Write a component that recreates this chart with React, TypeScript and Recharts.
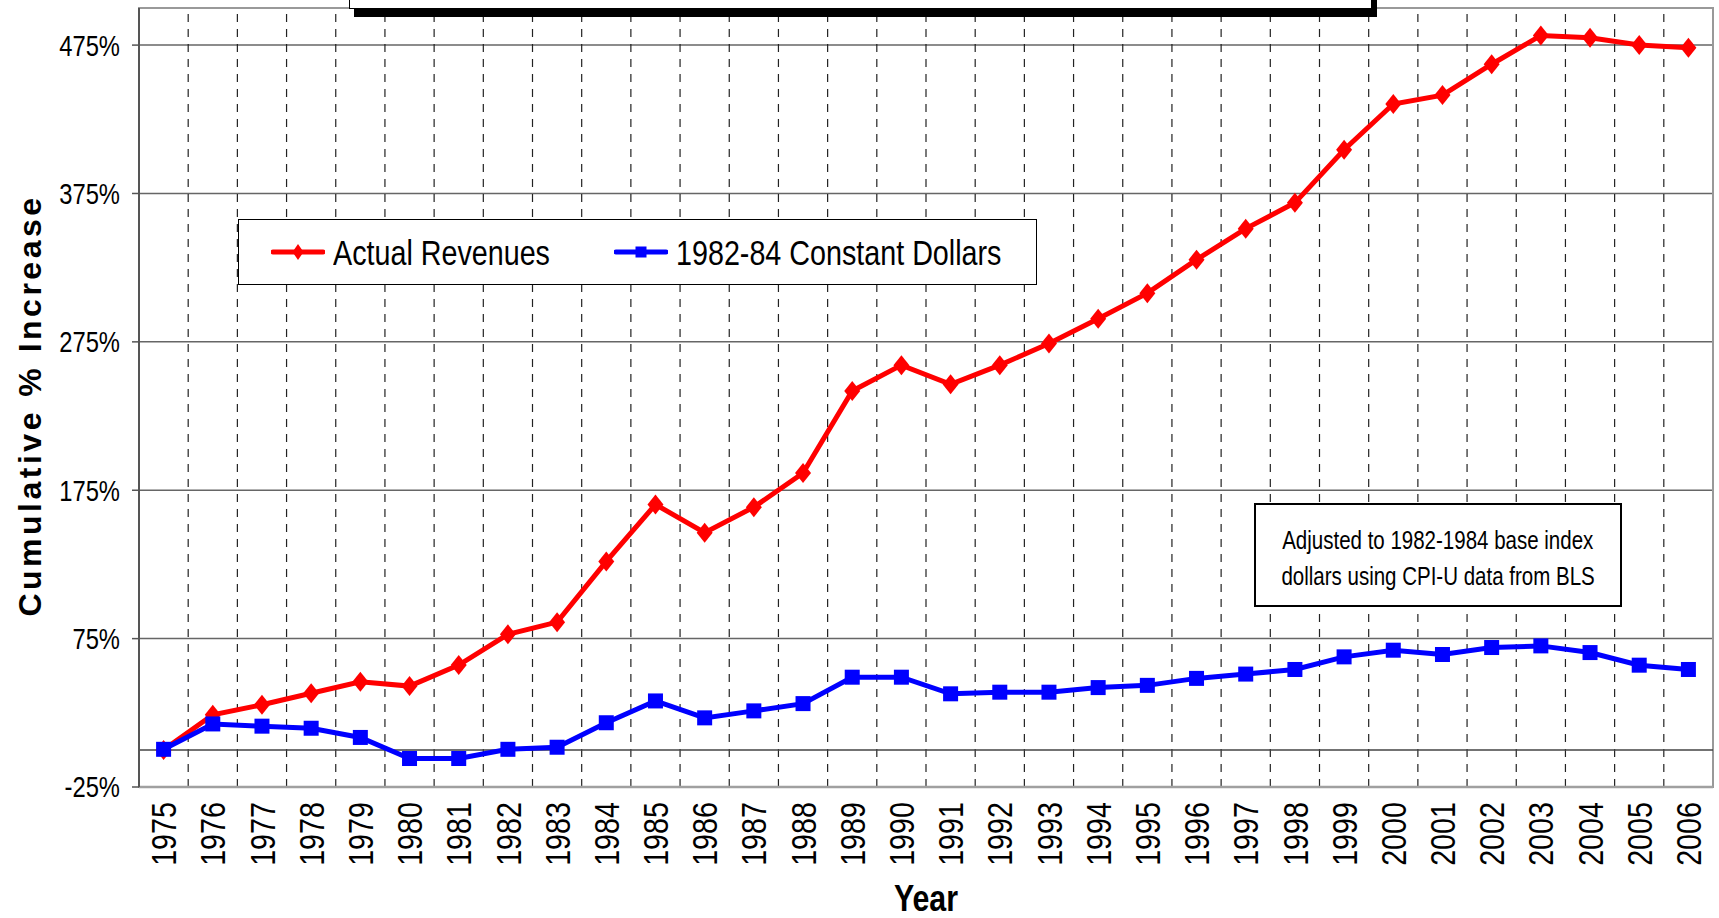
import React from 'react';
import {
  LineChart,
  Line,
  XAxis,
  YAxis,
  CartesianGrid,
  ReferenceLine,
  ReferenceArea,
  Legend,
  Label,
} from 'recharts';

// cumulative % increase since 1975
const years = [
  1975, 1976, 1977, 1978, 1979, 1980, 1981, 1982, 1983, 1984, 1985, 1986, 1987, 1988, 1989, 1990,
  1991, 1992, 1993, 1994, 1995, 1996, 1997, 1998, 1999, 2000, 2001, 2002, 2003, 2004, 2005, 2006,
];
const actualRevenues = [
  0, 23.7, 30.4, 38.2, 45.9, 43, 57.2, 77.9, 86.1, 127, 165.4, 146.4, 163.6, 186.6, 241.9, 259.3,
  246.4, 259.3, 273.9, 290.6, 307.8, 330.4, 351.3, 368.7, 404.5, 435.3, 441.3, 462.1, 481.5, 479.9,
  475, 473.2,
];
const constantDollars = [
  0.4, 17.5, 16, 14.6, 8.4, -5.8, -5.8, 0.4, 1.8, 18.3, 33, 21.6, 26.3, 31.2, 49, 49, 37.8, 38.9,
  38.9, 42, 43.5, 48.2, 51.1, 54.2, 62.7, 67.2, 64.3, 69, 70.1, 65.6, 57.1, 54.2,
];
const yTicks = [-25, 75, 175, 275, 375, 475];
const noteLines = ['Adjusted to 1982-1984 base index', 'dollars using CPI-U data from BLS'];

const chartData = years.map((year, i) => ({
  year,
  actual: actualRevenues[i],
  constant: constantDollars[i],
}));
// dashed lines sit between the years, not on them
const yearBoundaries = years.slice(0, -1).map((y) => y + 0.5);

// no Arial Narrow here, so squeeze Liberation Sans (Arial metrics) sideways
const SANS = "'Liberation Sans', Arial, sans-serif";
const SQUEEZE = 0.82;
const RED = '#ff0000';
const BLUE = '#0000ff';

const DiamondDot = (props: any) => {
  const { cx, cy, index } = props;
  if (cx == null || cy == null) return <g key={index} />;
  return (
    <path
      key={index}
      d={`M${cx},${cy - 10} L${cx + 8},${cy} L${cx},${cy + 10} L${cx - 8},${cy} Z`}
      fill={RED}
    />
  );
};

const SquareDot = (props: any) => {
  const { cx, cy, index } = props;
  if (cx == null || cy == null) return <g key={index} />;
  return <rect key={index} x={cx - 7.5} y={cy - 7.5} width={15} height={15} fill={BLUE} />;
};

const YearTick = ({ x, y, payload }: any) => {
  const ty = y + 15;
  return (
    <text
      x={0}
      y={0}
      dy="0.36em"
      transform={`translate(${x}, ${ty}) rotate(-90) scale(${SQUEEZE}, 1)`}
      textAnchor="end"
      fontFamily={SANS}
      fontSize={35}
      fill="#000"
    >
      {payload.value}
    </text>
  );
};

const PercentTick = ({ x, y, payload }: any) => (
  <text
    x={0}
    y={0}
    dy="0.36em"
    transform={`translate(${x}, ${y}) scale(${SQUEEZE}, 1)`}
    textAnchor="end"
    fontFamily={SANS}
    fontSize={29}
    fill="#000"
  >
    {`${payload.value}%`}
  </text>
);

const squeezed = (size: number, extra: React.CSSProperties = {}): React.CSSProperties => ({
  display: 'inline-block',
  whiteSpace: 'nowrap',
  fontFamily: SANS,
  fontSize: size,
  transform: `scaleX(${SQUEEZE})`,
  transformOrigin: 'left center',
  ...extra,
});

const legendLeft: Record<string, number> = { actual: 32, constant: 375 };

const LegendBox = (props: any) => {
  const items = props.payload ?? [];
  return (
    <div
      style={{
        position: 'relative',
        boxSizing: 'border-box',
        width: 799,
        height: 66,
        border: '1px solid #000',
        background: '#fff',
      }}
    >
      {items.map((item: any) => {
        const isRed = item.dataKey === 'actual';
        const c = isRed ? RED : BLUE;
        return (
          <div
            key={item.value}
            style={{
              position: 'absolute',
              left: legendLeft[item.dataKey] ?? 0,
              top: 0,
              height: 64,
              display: 'flex',
              alignItems: 'center',
            }}
          >
            <svg width={54} height={20} style={{ marginRight: 8 }}>
              <line x1={2} y1={10} x2={52} y2={10} stroke={c} strokeWidth={5} strokeLinecap="round" />
              {isRed ? (
                <path d="M27,2 L32.5,10 L27,18 L21.5,10 Z" fill={c} />
              ) : (
                <rect x={21.5} y={4.5} width={11} height={11} fill={c} />
              )}
            </svg>
            <span style={squeezed(35, { color: '#000', lineHeight: 1 })}>{item.value}</span>
          </div>
        );
      })}
    </div>
  );
};

export default function App() {
  return (
    <div style={{ position: 'absolute', left: 0, top: 0, width: 1719, height: 918, background: '#fff' }}>
      <LineChart
        width={1719}
        height={918}
        data={chartData}
        margin={{ top: 8, right: 6, bottom: 0, left: 0 }}
      >
        <CartesianGrid vertical={false} stroke="#666" strokeWidth={1.5} />
        <ReferenceArea
          x1={1974.5}
          x2={2006.5}
          y1={-25}
          y2={500}
          fill="none"
          stroke="#999"
          strokeWidth={2}
        />
        {yearBoundaries.map((b) => (
          <ReferenceLine key={b} x={b} stroke="#222" strokeWidth={1.2} strokeDasharray="8 7" />
        ))}
        <ReferenceLine y={0} stroke="#444" strokeWidth={1.5} />
        <XAxis
          type="number"
          dataKey="year"
          domain={[1974.5, 2006.5]}
          ticks={years}
          interval={0}
          allowDataOverflow
          height={131}
          tickLine={false}
          tickSize={0}
          tickMargin={0}
          axisLine={{ stroke: '#a0a0a0', strokeWidth: 2.5 }}
          tick={<YearTick />}
        >
          <Label
            content={(p: any) => {
              const vb = p.viewBox ?? { x: 139, y: 787, width: 1574, height: 131 };
              const lx = vb.x + vb.width / 2;
              const ly = vb.y + 124;
              return (
                <text
                  x={0}
                  y={0}
                  transform={`translate(${lx}, ${ly}) scale(${SQUEEZE}, 1)`}
                  textAnchor="middle"
                  fontFamily={SANS}
                  fontWeight="bold"
                  fontSize={37}
                  fill="#000"
                >
                  Year
                </text>
              );
            }}
          />
        </XAxis>
        <YAxis
          type="number"
          domain={[-25, 500]}
          ticks={yTicks}
          interval={0}
          allowDataOverflow
          width={139}
          tickSize={7}
          tickMargin={12}
          tickLine={{ stroke: '#555', strokeWidth: 1.5 }}
          axisLine={{ stroke: '#555', strokeWidth: 2 }}
          tick={<PercentTick />}
        >
          <Label
            content={(p: any) => {
              const vb = p.viewBox ?? { x: 0, y: 8, width: 139, height: 779 };
              const lx = vb.x + 41;
              const ly = vb.y + vb.height / 2 + 8;
              return (
                <text
                  x={lx}
                  y={ly}
                  transform={`rotate(-90, ${lx}, ${ly})`}
                  textAnchor="middle"
                  fontFamily={SANS}
                  fontWeight="bold"
                  fontSize={32}
                  letterSpacing={3.5}
                  fill="#000"
                >
                  Cumulative % Increase
                </text>
              );
            }}
          />
        </YAxis>
        <Legend
          layout="horizontal"
          verticalAlign="middle"
          align="center"
          wrapperStyle={{ left: 238, top: 219, width: 799, height: 66 }}
          content={<LegendBox />}
        />
        <Line
          type="linear"
          dataKey="actual"
          name="Actual Revenues"
          stroke={RED}
          strokeWidth={5}
          dot={<DiamondDot />}
          activeDot={false}
          isAnimationActive={false}
        />
        <Line
          type="linear"
          dataKey="constant"
          name="1982-84 Constant Dollars"
          stroke={BLUE}
          strokeWidth={5}
          dot={<SquareDot />}
          activeDot={false}
          isAnimationActive={false}
        />
      </LineChart>

      {/* title box, cut off by the top edge in the original */}
      <div
        style={{
          position: 'absolute',
          left: 349,
          top: -60,
          width: 1023,
          height: 69,
          boxSizing: 'border-box',
          border: '1px solid #000',
          background: '#fff',
          boxShadow: '5px 8px 0 #000',
        }}
      />

      <div
        style={{
          position: 'absolute',
          left: 1254,
          top: 503,
          width: 368,
          height: 104,
          boxSizing: 'border-box',
          border: '2px solid #000',
          background: '#fff',
          color: '#000',
        }}
      >
        {noteLines.map((line, i) => (
          <div
            key={line}
            style={{
              position: 'absolute',
              left: -60,
              right: -60,
              top: 20 + i * 36,
              height: 30,
              textAlign: 'center',
            }}
          >
            <span style={squeezed(25, { transformOrigin: 'center center', lineHeight: '30px' })}>{line}</span>
          </div>
        ))}
      </div>
    </div>
  );
}
